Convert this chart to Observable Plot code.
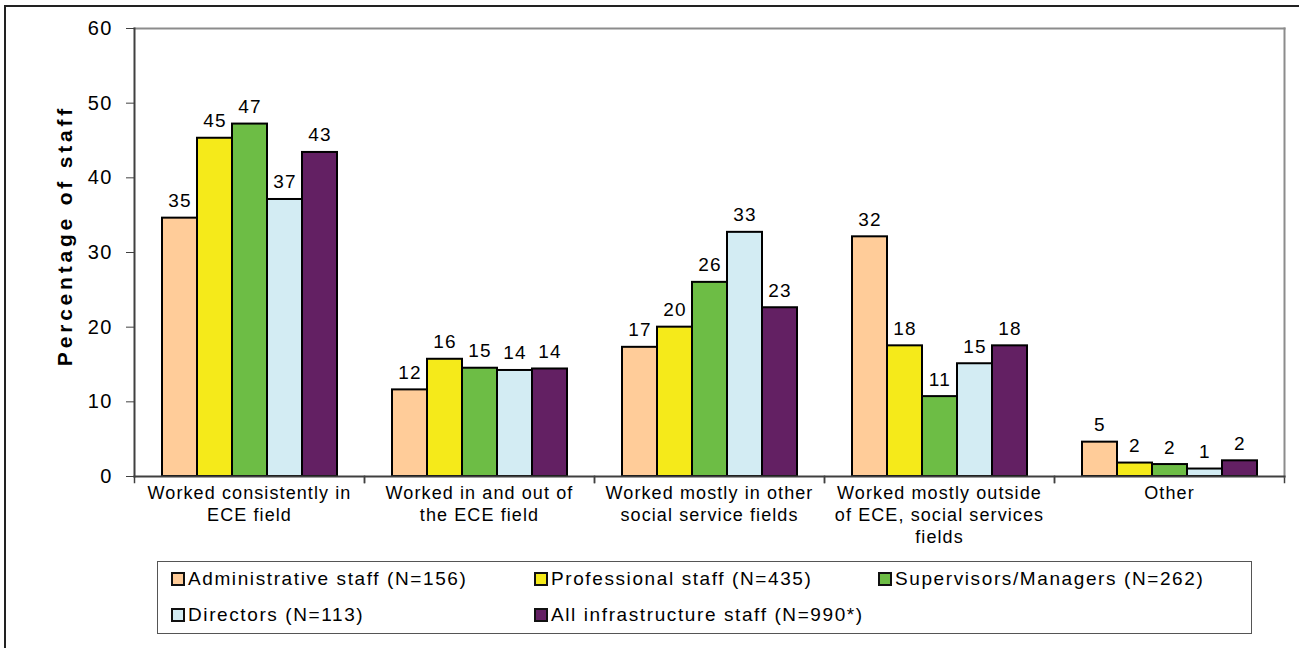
<!DOCTYPE html>
<html>
<head>
<meta charset="utf-8">
<script src="https://cdn.jsdelivr.net/npm/d3@7"></script>
<script src="https://cdn.jsdelivr.net/npm/@observablehq/plot@0.6"></script>
<style>
  html, body { margin: 0; padding: 0; background: #fff; }
  body { width: 1299px; height: 648px; position: relative; overflow: hidden; font-family: "Liberation Sans", Arial, sans-serif; }
  #outer { position: absolute; left: 4px; top: 5px; right: -10px; bottom: -10px; border-top: 2px solid #222; border-left: 2px solid #222; }
  #chart { position: absolute; left: 0; top: 0; }
  #chart svg text { letter-spacing: 1.3px; }
  #chart g[aria-label="fx-axis tick label"] text { letter-spacing: 1.1px; }
  #chart g[aria-label="y-axis tick label"] text { letter-spacing: 1.2px; }
  #chart g.ylab text { letter-spacing: 3.8px; }
  #legend { position: absolute; left: 157px; top: 561px; width: 1095px; height: 73px; border: 1px solid #555; box-sizing: border-box; }
  .item { position: absolute; display: flex; align-items: center; font-size: 19px; letter-spacing: 1.6px; color: #000; white-space: nowrap; }
  .sw { width: 14px; height: 14px; border: 2px solid #111; box-sizing: border-box; margin-right: 3px; }
</style>
</head>
<body>
<div id="outer"></div>
<div id="chart"></div>
<div id="legend"></div>
<script>
const categories = [
  "Worked consistently in ECE field",
  "Worked in and out of the ECE field",
  "Worked mostly in other social service fields",
  "Worked mostly outside of ECE, social services fields",
  "Other"
];
const categoryLabels = [
  "Worked consistently in\nECE field",
  "Worked in and out of\nthe ECE field",
  "Worked mostly in other\nsocial service fields",
  "Worked mostly outside\nof ECE, social services\nfields",
  "Other"
];
const series = [
  "Administrative staff (N=156)",
  "Professional staff (N=435)",
  "Supervisors/Managers (N=262)",
  "Directors (N=113)",
  "All infrastructure staff (N=990*)"
];
const seriesColors = ["#FFCC99", "#F5EA1A", "#6DBD45", "#D3ECF3", "#632063"];
const adminValues        = [34.6, 11.6, 17.3, 32.1, 4.6];
const professionalValues = [45.3, 15.7, 20.0, 17.5, 1.8];
const supervisorValues   = [47.2, 14.5, 26.0, 10.7, 1.6];
const directorValues     = [37.1, 14.2, 32.7, 15.1, 1.0];
const allStaffValues     = [43.4, 14.4, 22.6, 17.5, 2.1];
const yTicks = [0, 10, 20, 30, 40, 50, 60];
const yLabel = "Percentage of staff";

const seriesValues = [adminValues, professionalValues, supervisorValues, directorValues, allStaffValues];
const rows = [];
categories.forEach((c, ci) => {
  series.forEach((s, si) => rows.push({category: c, series: s, value: seriesValues[si][ci]}));
});

const W = 1299, H = 552, mT = 28, mB = 76, mL = 132, mR = 13;
const plotH = H - mT - mB;

const chart = Plot.plot({
  width: W, height: H,
  marginTop: mT, marginBottom: mB, marginLeft: mL, marginRight: mR,
  style: {fontFamily: '"Liberation Sans", Arial, sans-serif', color: "#000", background: "transparent", overflow: "visible"},
  fx: {domain: categories, padding: 0},
  x: {domain: series, paddingInner: 0, paddingOuter: 0.74, axis: null},
  y: {domain: [0, 60]},
  color: {domain: series, range: seriesColors},
  marks: [
    Plot.barY(rows, {fx: "category", x: "series", y: "value", fill: "series", stroke: "#000", strokeWidth: 2}),
    Plot.text(rows, {fx: "category", x: "series", y: "value", text: d => String(Math.round(d.value)), dy: -11, lineAnchor: "bottom", fontSize: 19, fill: "#000"}),
    Plot.frame({anchor: "left", insetTop: plotH, insetBottom: -6, stroke: "#404040", strokeWidth: 1.5}),
    Plot.frame({anchor: "right", insetTop: plotH, insetBottom: -6, stroke: "#404040", strokeWidth: 1.5}),
    Plot.frame({facet: "super", anchor: "top", stroke: "#8c8c8c", strokeWidth: 2}),
    Plot.frame({facet: "super", anchor: "right", stroke: "#8c8c8c", strokeWidth: 2}),
    Plot.frame({facet: "super", anchor: "left", stroke: "#404040", strokeWidth: 2}),
    Plot.frame({facet: "super", anchor: "bottom", stroke: "#404040", strokeWidth: 2}),
    Plot.axisY({ticks: yTicks, tickSize: 8, tickPadding: 14, fontSize: 20, label: null, stroke: "#404040", fill: "#000"}),
    Plot.axisFx({anchor: "bottom", tickSize: 0, tickPadding: 7, fontSize: 18, lineHeight: 1.22, label: null, fill: "#000",
      tickFormat: d => categoryLabels[categories.indexOf(d)]}),
    Plot.text([yLabel], {facet: "super", frameAnchor: "left", textAnchor: "middle", dx: -69, dy: -17, rotate: -90, fontWeight: "bold", fontSize: 21, fill: "#000", className: "ylab"})
  ]
});
document.getElementById("chart").appendChild(chart);

// legend
const legend = document.getElementById("legend");
const legendCols = [13, 376, 720];
series.forEach((s, i) => {
  const item = document.createElement("div");
  item.className = "item";
  item.style.left = legendCols[i % 3] + "px";
  item.style.top = (i < 3 ? 6 : 42) + "px";
  item.style.height = "22px";
  const sw = document.createElement("span");
  sw.className = "sw";
  sw.style.background = seriesColors[i];
  const t = document.createElement("span");
  t.textContent = s;
  item.appendChild(sw);
  item.appendChild(t);
  legend.appendChild(item);
});
</script>
</body>
</html>
